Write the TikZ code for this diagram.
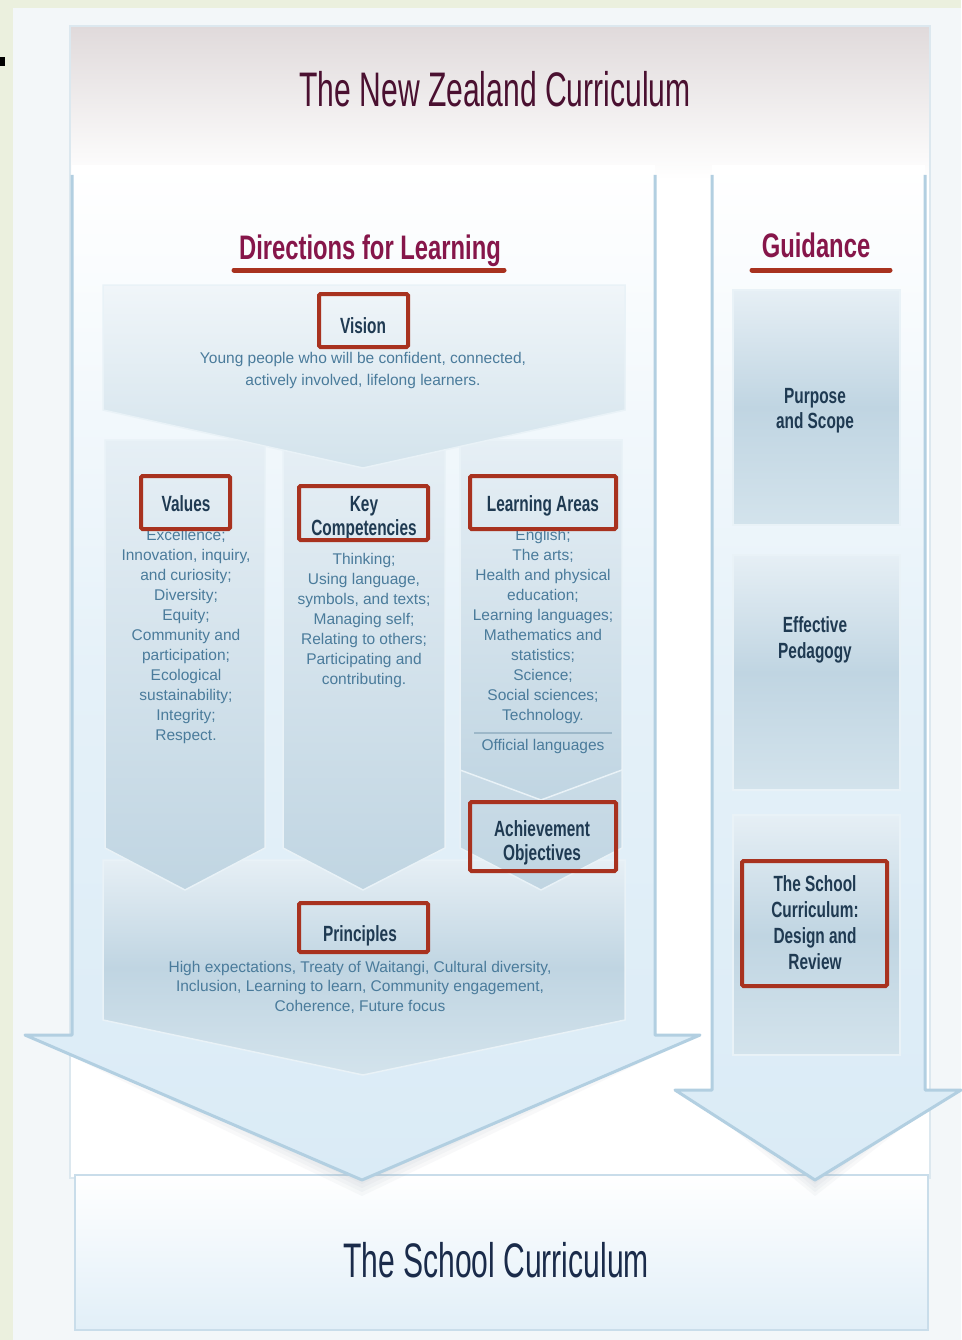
\documentclass[tikz,border=0pt]{standalone}
\usepackage{fontspec}
\newfontfamily\titlefont{Liberation Sans}[FakeStretch=0.62]
\newfontfamily\headfont{Liberation Sans}[FakeStretch=0.70]
\newfontfamily\labelfont{Liberation Sans}[FakeStretch=0.70]
\newfontfamily\bodyfont{Liberation Sans}

\definecolor{pageGreen}{HTML}{EBF0DE}
\definecolor{pagePale}{HTML}{F3F7F9}
\definecolor{frameTop}{HTML}{E0DADB}
\definecolor{frameEdge}{HTML}{DCE8EF}
\definecolor{arrowFill}{HTML}{DAEBF6}
\definecolor{arrowEdge}{HTML}{B2CFE1}
\definecolor{panelTop}{HTML}{E6EFF5}
\definecolor{panelMid}{HTML}{C0D5E2}
\definecolor{panelBot}{HTML}{D3E3EC}
\definecolor{panelLine}{HTML}{E9F2F7}
\definecolor{redBox}{HTML}{A8321F}
\definecolor{titleInk}{HTML}{4A1030}
\definecolor{headInk}{HTML}{86164A}
\definecolor{labelInk}{HTML}{1F3A52}
\definecolor{bodyInk}{HTML}{4A7B9B}
\definecolor{schoolInk}{HTML}{1A2B4A}
\definecolor{ruleInk}{HTML}{9DB8C9}
\definecolor{shadowInk}{HTML}{8A98A4}

\begin{document}
\begin{tikzpicture}[x=1pt,y=-1pt,
  arrowbody/.style={top color=white, bottom color=arrowFill, middle color=arrowFill!70!white},
  arrowrim/.style={draw=arrowEdge, line width=3pt, line join=round},
  panel/.style={top color=panelTop, bottom color=panelBot, middle color=panelMid, draw=panelLine, line width=1.5pt},
  column/.style={top color=panelTop, bottom color=panelMid, draw=panelLine, line width=1.5pt},
  redbox/.style={draw=redBox, line width=4pt, rounded corners=1.5pt, inner sep=0pt},
  underline/.style={draw=redBox, line width=5pt, line cap=round},
  headtext/.style={font=\headfont\bfseries\fontsize{34}{34}\selectfont, text=headInk, anchor=base, inner sep=0pt},
  labeltext/.style={font=\labelfont\bfseries\fontsize{22}{25}\selectfont, text=labelInk, align=center, anchor=base, inner sep=0pt},
  bodytext/.style={font=\bodyfont\fontsize{15.5}{20}\selectfont, text=bodyInk, align=center, anchor=base, inner sep=0pt},
  shade layer/.style={fill=shadowInk, fill opacity=0.06}
]
\useasboundingbox (0,0) rectangle (961,1340);

% page and frame
\fill[pageGreen] (0,0) rectangle (961,1340);
\fill[pagePale] (13,8) rectangle (961,1340);
\fill[black] (0,57) rectangle (5,66);
\fill[white] (70,26) rectangle (930,1178);
\shade[top color=frameTop, bottom color=white] (70,26) rectangle (930,180);
\draw[frameEdge, line width=2pt] (70,26) rectangle (930,1178);

% bottom box
\shade[top color=white, bottom color=arrowFill!80!white] (75,1175) rectangle (928,1330);
\draw[arrowEdge!70!white, line width=1.5pt] (75,1175) rectangle (928,1330);

% soft shadows under the arrow heads
\foreach \d in {4,8,12,16} {
  \fill[shade layer] (60,1035+\d) -- (665,1035+\d) -- (362,1180+\d) -- cycle;
  \fill[shade layer] (705,1090+\d) -- (930,1090+\d) -- (815,1180+\d) -- cycle;
}

% guidance arrow
\path[arrowbody] (712,165) -- (925,165) -- (925,1090) -- (961,1090) -- (815,1180) -- (675,1090) -- (712,1090) -- cycle;
\draw[arrowrim] (712,175) -- (712,1090) -- (675,1090) -- (815,1180) -- (961,1090) -- (925,1090) -- (925,175);

% directions arrow
\path[arrowbody] (72,165) -- (655,165) -- (655,1035) -- (700,1035) -- (362,1180) -- (25,1035) -- (72,1035) -- cycle;
\draw[arrowrim] (72,175) -- (72,1035) -- (25,1035) -- (362,1180) -- (700,1035) -- (655,1035) -- (655,175);

% principles panel
\path[panel] (103,860) -- (625,860) -- (625,1020) -- (363,1075) -- (103,1020) -- cycle;

% three columns
\path[column] (105,440) -- (265,440) -- (265,848) -- (185,890) -- (105,848) -- cycle;
\path[column] (283,440) -- (445,440) -- (445,848) -- (363,890) -- (283,848) -- cycle;
\path[column] (460,440) -- (622,440) -- (622,848) -- (541,890) -- (460,848) -- cycle;
\path[column] (460,440) -- (622,440) -- (622,770) -- (541,800) -- (460,770) -- cycle;

% vision panel
\path[panel, top color=panelTop!60!white] (103,285) -- (625,285) -- (625,410) -- (363,468) -- (103,410) -- cycle;

% guidance panels
\path[panel] (733,290) rectangle (900,525);
\path[panel] (733,555) rectangle (900,790);
\path[panel] (733,815) rectangle (900,1055);

% titles
\node[font=\titlefont\fontsize{48.5}{48.5}\selectfont, text=titleInk, anchor=base, inner sep=0pt] (title) at (495,107) {The New Zealand Curriculum};
\node[font=\titlefont\fontsize{48.5}{48.5}\selectfont, text=schoolInk, anchor=base, inner sep=0pt] (schoolcurr) at (496,1277) {The School Curriculum};

\node[headtext] (dirhead) at (370,259) {Directions for Learning};
\node[headtext] (guidehead) at (816,258) {Guidance};
\draw[underline] (234,270) -- (504,270);
\draw[underline] (752,270) -- (890,270);

% vision (multi-line nodes are anchored at the baseline of their last line)
\node[labeltext] (visionlabel) at (363,333) {Vision};
\node[bodytext, font=\bodyfont\fontsize{15.5}{22}\selectfont] (visiontext) at (363,385) {Young people who will be confident, connected,\\actively involved, lifelong learners.};

% values
\node[labeltext] (valueslabel) at (186,511) {Values};
\node[bodytext] (valuestext) at (186,740) {Excellence;\\Innovation, inquiry,\\and curiosity;\\Diversity;\\Equity;\\Community and\\participation;\\Ecological\\sustainability;\\Integrity;\\Respect.};

% key competencies
\node[labeltext, font=\labelfont\bfseries\fontsize{22}{24}\selectfont] (keylabel) at (364,535) {Key\\Competencies};
\node[bodytext] (keytext) at (364,684) {Thinking;\\Using language,\\symbols, and texts;\\Managing self;\\Relating to others;\\Participating and\\contributing.};

% learning areas
\node[labeltext] (lalabel) at (543,511) {Learning Areas};
\node[bodytext] (latext) at (543,720) {English;\\The arts;\\Health and physical\\education;\\Learning languages;\\Mathematics and\\statistics;\\Science;\\Social sciences;\\Technology.};
\draw[ruleInk, line width=1.5pt] (474,733) -- (612,733);
\node[bodytext] (offlang) at (543,750) {Official languages};

% achievement objectives
\node[labeltext, font=\labelfont\bfseries\fontsize{22}{24}\selectfont] (aolabel) at (542,860) {Achievement\\Objectives};

% principles
\node[labeltext] (princlabel) at (360,941) {Principles};
\node[bodytext, font=\bodyfont\fontsize{15.5}{19.5}\selectfont] (princtext) at (360,1011) {High expectations, Treaty of Waitangi, Cultural diversity,\\Inclusion, Learning to learn, Community engagement,\\Coherence, Future focus};

% guidance panels text
\node[labeltext] (purpose) at (815,428) {Purpose\\and Scope};
\node[labeltext, font=\labelfont\bfseries\fontsize{22}{26}\selectfont] (pedagogy) at (815,658) {Effective\\Pedagogy};
\node[labeltext, font=\labelfont\bfseries\fontsize{22}{26}\selectfont] (review) at (815,969) {The School\\Curriculum:\\Design and\\Review};

% red highlight boxes
\node[redbox, minimum width=89, minimum height=53] (visionbox) at (363.5,320.5) {};
\node[redbox, minimum width=89, minimum height=53] (valuesbox) at (185.5,502.5) {};
\node[redbox, minimum width=129, minimum height=54] (keybox) at (363.5,513) {};
\node[redbox, minimum width=146, minimum height=53] (labox) at (543,502.5) {};
\node[redbox, minimum width=146, minimum height=69] (aobox) at (543,836.5) {};
\node[redbox, minimum width=129, minimum height=49] (princbox) at (363.5,927.5) {};
\node[redbox, minimum width=145, minimum height=125] (reviewbox) at (814.5,923.5) {};
\end{tikzpicture}
\end{document}
